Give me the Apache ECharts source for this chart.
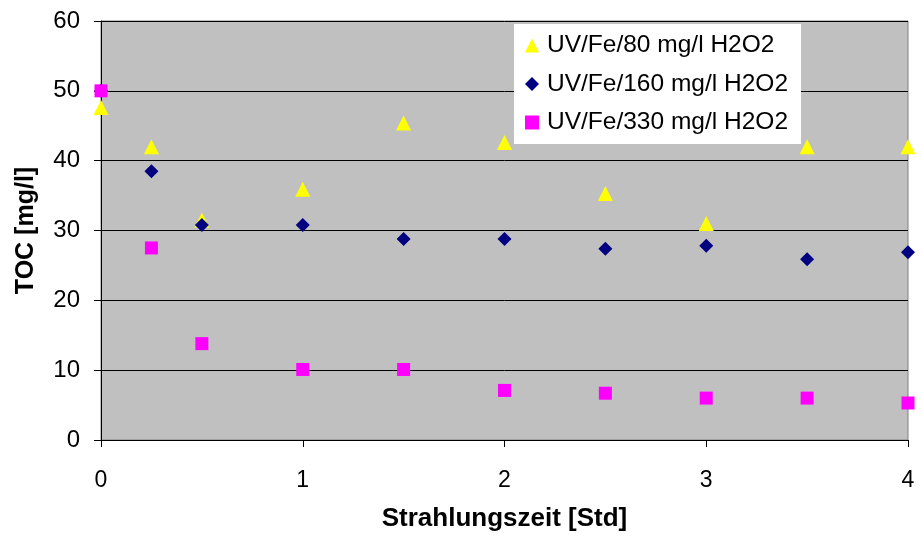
<!DOCTYPE html>
<html>
<head>
<meta charset="utf-8">
<script src="https://cdn.jsdelivr.net/npm/echarts@6/dist/echarts.min.js"></script>
<style>html,body{margin:0;padding:0;background:#fff}#c{width:922px;height:537px}</style>
</head>
<body>
<div id="c"></div>
<script>
const xValues = [0, 0.25, 0.5, 1, 1.5, 2, 2.5, 3, 3.5, 4];
const seriesNames = ['UV/Fe/80 mg/l H2O2', 'UV/Fe/160 mg/l H2O2', 'UV/Fe/330 mg/l H2O2'];
const toc80 = [47.6, 42.0, 31.5, 35.9, 45.4, 42.6, 35.3, 31.0, 42.0, 42.0];
const toc160 = [50.0, 38.5, 30.8, 30.8, 28.8, 28.8, 27.4, 27.8, 25.9, 26.9];
const toc330 = [50.0, 27.5, 13.8, 10.1, 10.1, 7.1, 6.7, 6.0, 6.0, 5.3];
const xTitle = 'Strahlungszeit [Std]';
const yTitle = 'TOC [mg/l]';

const pair = (vals) => xValues.map((x, i) => [x, vals[i]]);
const font = '"Liberation Sans", Arial, sans-serif';

const chart = echarts.init(document.getElementById('c'), null, {renderer: 'canvas'});
chart.setOption({
  animation: false,
  backgroundColor: '#ffffff',
  grid: {left: 101, right: 14, top: 21, bottom: 95, show: true, backgroundColor: '#c0c0c0', borderColor: '#808080', borderWidth: 1},
  legend: {
    left: 514, top: 24, orient: 'vertical',
    backgroundColor: '#ffffff', padding: [9, 13, 9, 11],
    itemWidth: 14, itemHeight: 14, itemGap: 13.5,
    textStyle: {fontFamily: font, fontSize: 24.5, color: '#000', lineHeight: 24, padding: [0, 0, 0, 3]},
    data: [
      {name: seriesNames[0], icon: 'triangle'},
      {name: seriesNames[1], icon: 'diamond'},
      {name: seriesNames[2], icon: 'rect'}
    ]
  },
  xAxis: {
    type: 'value', min: 0, max: 4, interval: 1,
    name: xTitle, nameLocation: 'middle', nameGap: 66,
    nameTextStyle: {fontFamily: font, fontSize: 26, fontWeight: 'bold', color: '#000'},
    axisLine: {show: true, lineStyle: {color: '#000', width: 1}},
    axisTick: {show: true, length: 7, lineStyle: {color: '#000'}},
    axisLabel: {fontFamily: font, fontSize: 23, color: '#000', margin: 29},
    splitLine: {show: false}
  },
  yAxis: {
    type: 'value', min: 0, max: 60, interval: 10,
    name: yTitle, nameLocation: 'middle', nameGap: 62, nameRotate: 90,
    nameTextStyle: {fontFamily: font, fontSize: 25, fontWeight: 'bold', color: '#000'},
    axisLine: {show: true, lineStyle: {color: '#000', width: 1}},
    axisTick: {show: true, length: 7, lineStyle: {color: '#000'}},
    axisLabel: {fontFamily: font, fontSize: 24, color: '#000', margin: 21},
    splitLine: {show: true, lineStyle: {color: '#000', width: 1}}
  },
  series: [
    {name: seriesNames[0], type: 'scatter', symbol: 'triangle', symbolSize: 15, itemStyle: {color: '#ffff00', opacity: 1}, data: pair(toc80), z: 2},
    {name: seriesNames[1], type: 'scatter', symbol: 'diamond', symbolSize: 14, itemStyle: {color: '#000080', opacity: 1}, data: pair(toc160), z: 3},
    {name: seriesNames[2], type: 'scatter', symbol: 'rect', symbolSize: 13, itemStyle: {color: '#ff00ff', opacity: 1}, data: pair(toc330), z: 4}
  ]
});
</script>
</body>
</html>
